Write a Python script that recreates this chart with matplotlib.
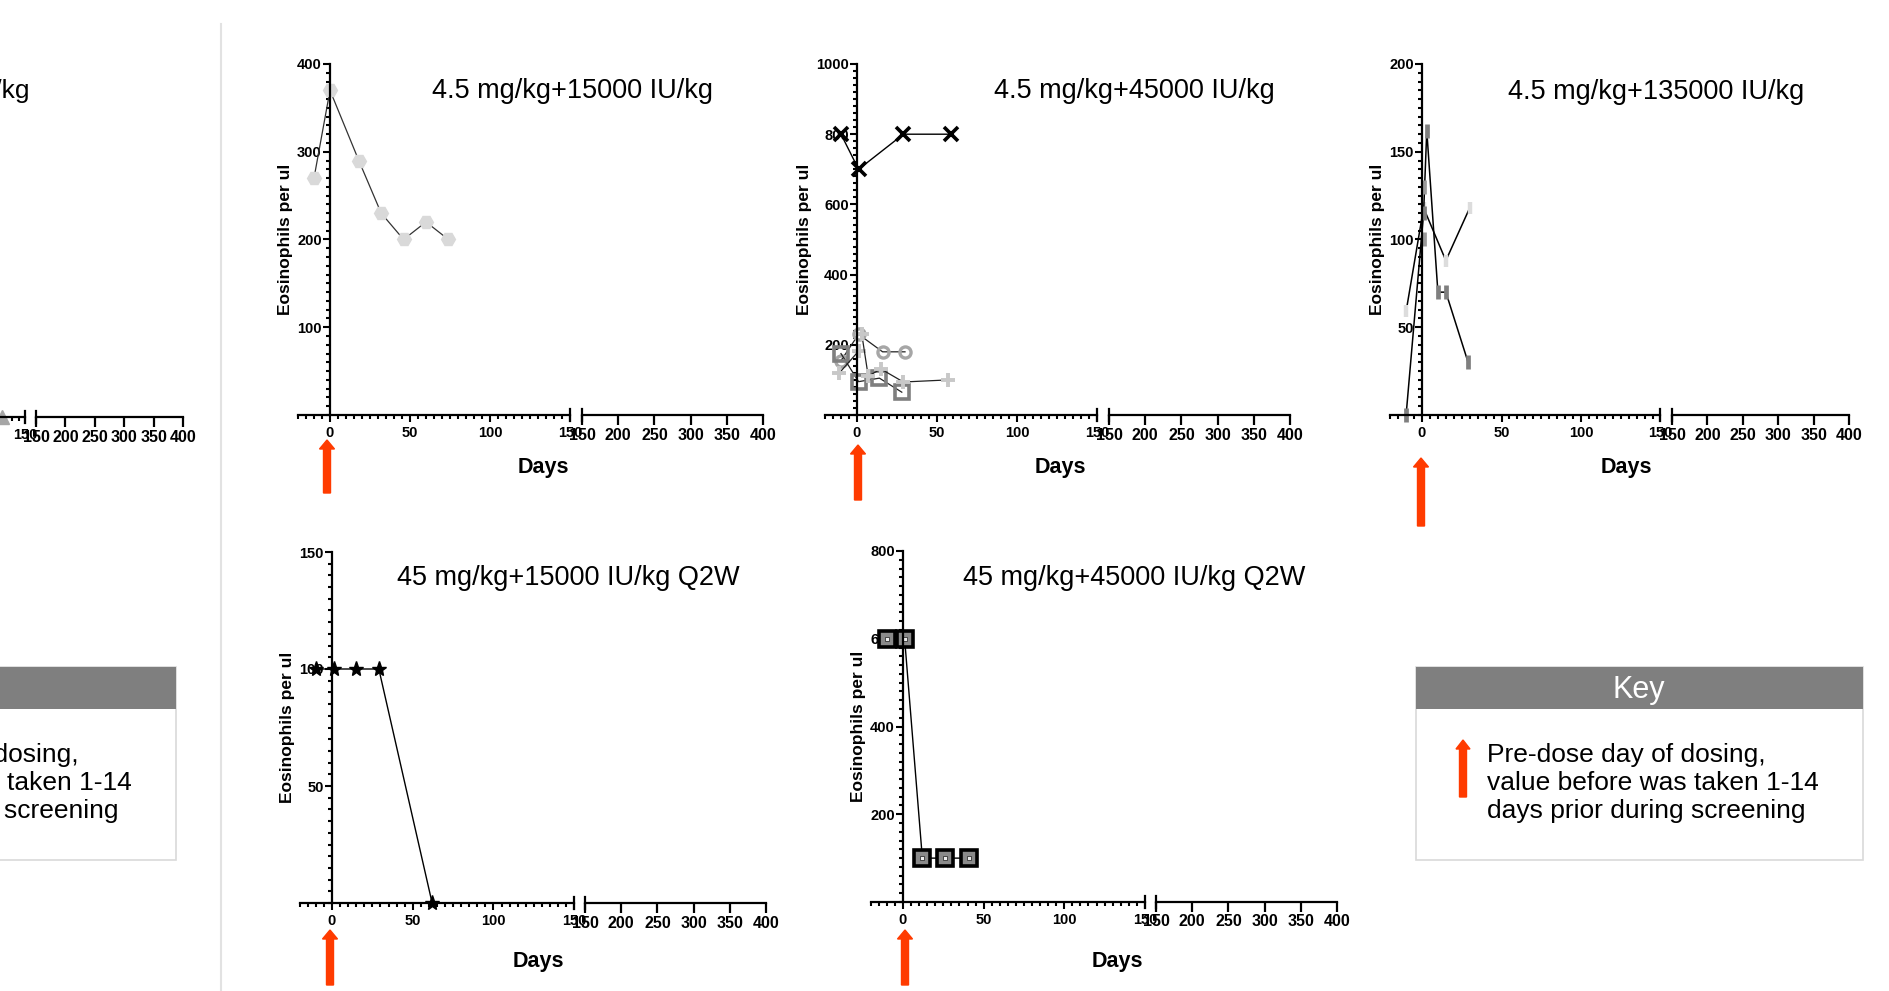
import numpy as np
import matplotlib
matplotlib.use("Agg")
import matplotlib.pyplot as plt
import matplotlib.patches as patches
from matplotlib.transforms import IdentityTransform

plt.rcParams['font.family'] = ['Liberation Sans', 'DejaVu Sans']
plt.rcParams['font.weight'] = 'bold'
plt.rcParams['axes.labelweight'] = 'bold'

W, H = 1890, 991

# ---- data: days relative to dosing, eosinophils per ul ----
p1_days = [-10, 0, 18, 32, 46, 60, 74]
p1_eos = [270, 370, 290, 230, 200, 220, 200]

p2_cross_days = [-10, 1, 29, 59]
p2_cross_eos = [800, 700, 800, 800]
p2_circle_days = [-10, 1, 16, 30]
p2_circle_eos = [155, 230, 180, 180]
p2_square_days = [-10, 1, 14, 28]
p2_square_eos = [175, 95, 105, 65]
p2_plus_a_days = [-11, 1]
p2_plus_a_eos = [120, 182]
p2_plus_b_days = [3, 7, 15, 29, 57]
p2_plus_b_eos = [230, 111, 131, 94, 100]

p3_light_days = [-10, 1, 15, 30]
p3_light_eos = [59, 118, 88, 118]
p3_dark_days = [-10, 1, 3, 10, 15, 29]
p3_dark_eos = [0, 115, 162, 70, 70, 30]
p3_mid_days = [1, 1]
p3_mid_eos = [100, 130]

p4_days = [-10, 1, 15, 29, 62]
p4_eos = [100, 100, 100, 100, 0]

p5_days = [-10, 1, 12, 26, 41]
p5_eos = [600, 600, 100, 100, 100]

p0_days = [132]
p0_eos = [0]

titles = ["4.5 mg/kg+15000 IU/kg", "4.5 mg/kg+45000 IU/kg", "4.5 mg/kg+135000 IU/kg",
          "45 mg/kg+15000 IU/kg Q2W", "45 mg/kg+45000 IU/kg Q2W"]
key_text = "Pre-dose day of dosing,\nvalue before was taken 1-14\ndays prior during screening"

ARROW_RED = '#ff3b00'

fig = plt.figure(figsize=(W / 100, H / 100), dpi=100)


def fx(px):
    return px / W


def fy(py):
    return 1 - py / H


def make_panel(zero, ppd, top, bot, rs, re, ymax, major, minor, ylabel=True):
    left = zero - 20 * ppd
    right = zero + 150 * ppd
    ax = fig.add_axes([fx(left), fy(bot), (right - left) / W, (bot - top) / H])
    ax.set_facecolor('none')
    ax.set_xlim(-20, 150)
    ax.set_ylim(0, ymax)
    for s in ['top', 'right']:
        ax.spines[s].set_visible(False)
    ax.spines['left'].set_position(('data', 0))
    ax.spines['left'].set_linewidth(1.6)
    ax.spines['bottom'].set_linewidth(1.6)
    ax.set_xticks([0, 50, 100, 150])
    ax.set_xticks(np.arange(-20, 151, 5), minor=True)
    ax.set_yticks(np.arange(major, ymax + major / 2, major))
    ax.set_yticks(np.arange(0, ymax + minor / 2, minor), minor=True)
    ax.tick_params(which='major', length=5, width=1.5, labelsize=10.5, pad=1)
    ax.tick_params(which='minor', length=3, width=1.5)
    ax.tick_params(axis='x', pad=3)
    c = 6 / (bot - top)
    ax.plot([150, 150], [-c, c], transform=ax.get_xaxis_transform(),
            color='black', lw=1.6, clip_on=False)
    if ylabel:
        ax.set_ylabel("Eosinophils per ul", fontsize=12.5, fontweight='bold', labelpad=3)

    ax2 = fig.add_axes([fx(rs), fy(bot), (re - rs) / W, (bot - top) / H])
    ax2.set_facecolor('none')
    ax2.set_xlim(150, 400)
    ax2.set_ylim(0, 1)
    for s in ['top', 'right', 'left']:
        ax2.spines[s].set_visible(False)
    ax2.spines['bottom'].set_linewidth(1.6)
    ax2.set_yticks([])
    ax2.set_xticks(np.arange(150, 401, 50))
    ax2.tick_params(axis='x', length=7, width=1.6, labelsize=11.5, pad=2)
    ax2.plot([150, 150], [-c, c], transform=ax2.get_xaxis_transform(),
             color='black', lw=1.6, clip_on=False)
    return ax


def red_arrow(x, tip, base, width=7, head_width=15, head_len=9):
    arr = patches.FancyArrow(x, H - base, 0, base - tip, width=width,
                             head_width=head_width, head_length=head_len,
                             length_includes_head=True, color=ARROW_RED,
                             transform=IdentityTransform())
    fig.add_artist(arr)


# ---- panels ----
ax1 = make_panel(330, 1.6, 64, 415, 582, 763, 400, 100, 10)
ax1.plot(p1_days, p1_eos, color='#333333', lw=0.9, marker='H', ms=10,
         mfc='#d9d9d9', mec='#d9d9d9', clip_on=False)

ax2 = make_panel(857, 1.6, 64, 415, 1109, 1290, 1000, 200, 20)
ax2.plot(p2_cross_days, p2_cross_eos, color='black', lw=1.0, marker='x', ms=10,
         mec='black', mew=2.6, clip_on=False)
ax2.plot(p2_circle_days, p2_circle_eos, color='#222222', lw=0.9, marker='o', ms=8,
         mfc='none', mec='#a6a6a6', mew=2.4, clip_on=False)
ax2.plot(p2_square_days, p2_square_eos, color='#222222', lw=0.9, marker='s', ms=10,
         mfc='none', mec='#7f7f7f', mew=2.6, clip_on=False)
ax2.plot(p2_plus_a_days, p2_plus_a_eos, color='#222222', lw=0.9, marker='+', ms=10,
         mec='#c8c8c8', mew=2.8, clip_on=False)
ax2.plot(p2_plus_b_days, p2_plus_b_eos, color='#222222', lw=0.9, marker='+', ms=10,
         mec='#c8c8c8', mew=2.8, clip_on=False)

ax3 = make_panel(1422, 1.59, 64, 415, 1672, 1849, 200, 50, 5)
ax3.plot(p3_light_days, p3_light_eos, color='black', lw=1.1, marker='|', ms=9,
         mec='#dcdcdc', mew=3.2, clip_on=False)
ax3.plot(p3_dark_days, p3_dark_eos, color='black', lw=1.1, marker='|', ms=10,
         mec='#7f7f7f', mew=3.4, clip_on=False)
ax3.plot(p3_mid_days, p3_mid_eos, linestyle='none', marker='|', ms=10,
         mec='#9a9a9a', mew=3.4, clip_on=False)

ax4 = make_panel(332, 1.615, 552, 903, 585, 766, 150, 50, 5)
ax4.plot(p4_days, p4_eos, color='black', lw=1.0, marker='*', ms=11,
         mfc='black', mec='black', clip_on=False)

ax5 = make_panel(903, 1.613, 551, 902, 1156, 1337, 800, 200, 20)
ax5.plot(p5_days, p5_eos, color='black', lw=1.0, marker='s', ms=11,
         mfc='#8a8a8a', mec='black', mew=2.6, clip_on=False)
ax5.plot(p5_days, p5_eos, linestyle='none', marker='s', ms=2.5,
         mfc='#eeeeee', mec='#333333', mew=0.6, clip_on=False)

# cut-off panel at the left edge of the slide
ax0 = make_panel(-170, 1.3, 64, 417, 36, 183, 400, 100, 10, ylabel=False)
ax0.plot(p0_days, p0_eos, linestyle='none', marker='^', ms=10,
         mfc='#a6a6a6', mec='#a6a6a6', clip_on=False)
fig.text(fx(30), fy(91), "IU/kg", fontsize=19, fontweight='normal',
         ha='right', va='center')

# titles
title_pos = [(572, 91), (1134, 91), (1656, 92), (568, 578), (1134, 578)]
for t, (x, y) in zip(titles, title_pos):
    fig.text(fx(x), fy(y), t, fontsize=19.5, fontweight='normal',
             ha='center', va='center')

# Days labels
for x, y in [(543, 468), (1060, 468), (1626, 468), (538, 962), (1117, 962)]:
    fig.text(fx(x), fy(y), "Days", fontsize=15.5, fontweight='bold',
             ha='center', va='center')

# dosing arrows
red_arrow(327, 440, 493)
red_arrow(858, 445, 500)
red_arrow(1421, 458, 526)
red_arrow(330, 930, 985)
red_arrow(905, 930, 985)


# key boxes
def key_box(left):
    body = patches.Rectangle((fx(left), fy(860)), 447 / W, (860 - 667) / H,
                             transform=fig.transFigure, facecolor='white',
                             edgecolor='#d9d9d9', lw=1.2)
    fig.add_artist(body)
    head = patches.Rectangle((fx(left), fy(709)), 447 / W, (709 - 667) / H,
                             transform=fig.transFigure, facecolor='#7f7f7f',
                             edgecolor='none')
    fig.add_artist(head)
    fig.text(fx(left + 223), fy(690), "Key", color='white', fontsize=22,
             fontweight='normal', ha='center', va='center')
    fig.text(fx(left + 71), fy(783), key_text, fontsize=19, fontweight='normal',
             ha='left', va='center', linespacing=1.2)
    red_arrow(left + 47, 740, 797, width=7, head_width=14, head_len=9)


key_box(1416)
key_box(1416 - 1687)

# slide separator
fig.add_artist(plt.Line2D([fx(221), fx(221)], [fy(24), 0], transform=fig.transFigure,
                          color='#e2e2e2', lw=1.5))

fig.savefig("out.png", dpi=100, facecolor='white')
